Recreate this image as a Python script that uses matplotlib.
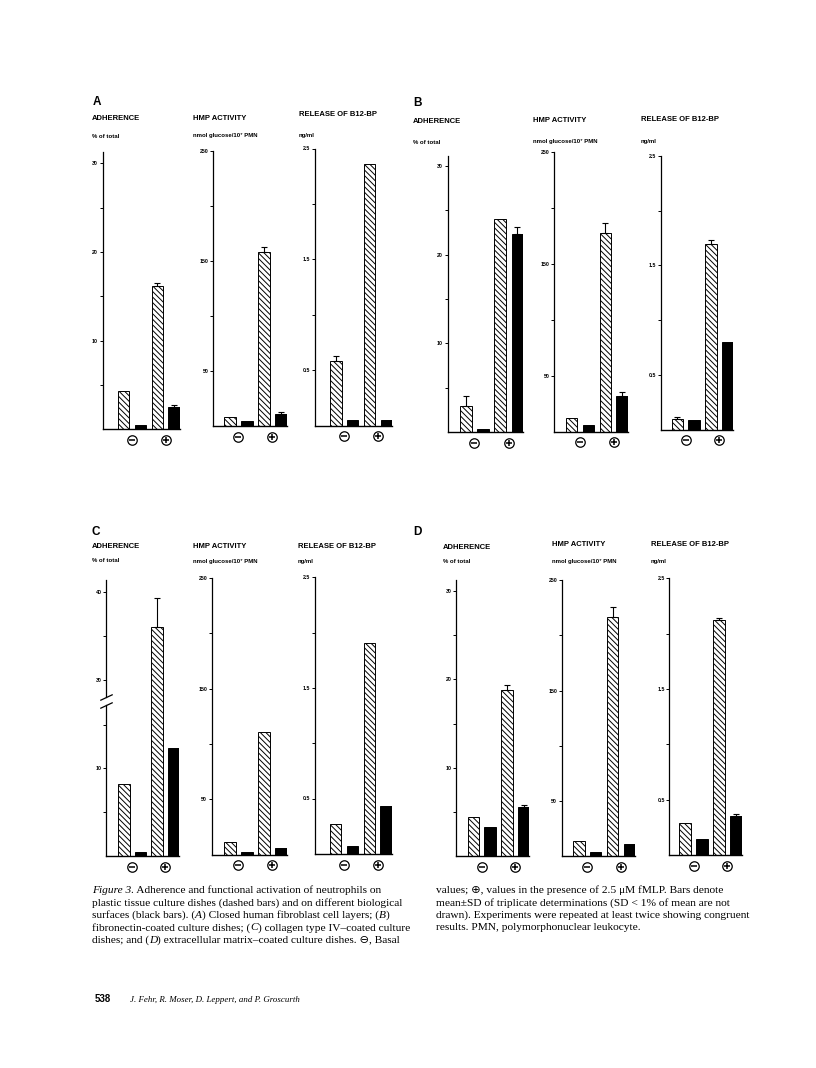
import numpy as np
import matplotlib
matplotlib.use("Agg")
from matplotlib import pyplot as plt
from matplotlib import transforms

# bar order in every panel: plastic basal, biological basal, plastic +fMLP, biological +fMLP
bar_kind = ['plastic', 'biological', 'plastic', 'biological']
sign_markers = ['_', '+']

# A: closed human fibroblast cell layers
adh_A = [4.3, 0.5, 16.2, 2.5]
adh_A_sd = [0, 0, 0.25, 0.25]
hmp_A = [8, 5, 158, 11.5]
hmp_A_sd = [0, 0, 5, 1.2]
b12_A = [0.58, 0.05, 2.36, 0.05]
b12_A_sd = [0.05, 0, 0, 0]

# B: fibronectin-coated dishes
adh_B = [2.9, 0.35, 24.0, 22.3]
adh_B_sd = [1.2, 0, 0, 0.8]
hmp_B = [12, 5.8, 178, 32]
hmp_B_sd = [0, 0, 8.5, 3.5]
b12_B = [0.10, 0.09, 1.70, 0.80]
b12_B_sd = [0.015, 0, 0.035, 0]

# C: collagen type IV-coated dishes
adh_C = [8.2, 0.42, 36.0, 12.3]
adh_C_sd = [0, 0, 3.3, 0]
hmp_C = [11.7, 2.4, 111, 5.7]
hmp_C_sd = [0, 0, 0, 0]
b12_C = [0.265, 0.07, 1.905, 0.43]
b12_C_sd = [0, 0, 0, 0]

# D: extracellular matrix-coated dishes
adh_D = [4.4, 3.3, 18.8, 5.5]
adh_D_sd = [0, 0, 0.55, 0.28]
hmp_D = [13.9, 3.9, 217, 10.6]
hmp_D_sd = [0, 0, 9, 0]
b12_D = [0.29, 0.145, 2.125, 0.35]
b12_D_sd = [0, 0, 0.02, 0.02]

adh_ticks = [10, 20, 30]
adh_minor = [5, 15, 25]
adh_ticks_C = [10, 30, 40]
adh_minor_C = [5, 15, 35]
hmp_ticks = [50, 150, 250]
hmp_minor = [100, 200]
b12_ticks = [0.5, 1.5, 2.5]
b12_minor = [1.0, 2.0]

titles = ['ADHERENCE', 'HMP ACTIVITY', 'RELEASE OF B12-BP']
units = ['% of total', 'nmol glucose/10\u2077 PMN', 'ng/ml']

# caption, (text, italic) segments per line
cap_left = [
    [('Figure 3.', True), (' Adherence and functional activation of neutrophils on', False)],
    [('plastic tissue culture dishes (dashed bars) and on different biological', False)],
    [('surfaces (black bars). (', False), ('A', True),
     (') Closed human fibroblast cell layers; (', False), ('B', True), (')', False)],
    [('fibronectin-coated culture dishes; (', False), ('C', True),
     (') collagen type IV\u2013coated culture', False)],
    [('dishes; and (', False), ('D', True),
     (') extracellular matrix\u2013coated culture dishes. \u2296, Basal', False)],
]
cap_right = [
    [('values; \u2295, values in the presence of 2.5 \u03bcM fMLP. Bars denote', False)],
    [('mean\u00b1SD of triplicate determinations (SD < 1% of mean are not', False)],
    [('drawn). Experiments were repeated at least twice showing congruent', False)],
    [('results. PMN, polymorphonuclear leukocyte.', False)],
]
page_no = '538'
authors = 'J. Fehr, R. Moser, D. Leppert, and P. Groscurth'

W, H = 816, 1068
plt.rcParams['font.family'] = ['Liberation Sans', 'DejaVu Sans']
plt.rcParams['hatch.linewidth'] = 0.7

fig = plt.figure(figsize=(W / 100, H / 100), dpi=100)
renderer = fig.canvas.get_renderer()

BW = 0.68


def fx(x):
    return x / W


def fy(y):
    return 1 - y / H


# pixel layout: y-axis x, first bar left, last bar right, baseline y, axis top y, ymax
layout = {
    ('A', 0): (102.7, 117.7, 180.0, 429.4, 151.7, 31.3),
    ('A', 1): (213.3, 224.0, 286.7, 426.3, 151.3, 250),
    ('A', 2): (315.0, 330.0, 392.3, 425.5, 148.5, 2.5),
    ('B', 0): (447.7, 460.0, 523.3, 432.0, 156.0, 31.1),
    ('B', 1): (554.3, 566.0, 627.7, 431.5, 152.2, 250),
    ('B', 2): (660.7, 671.7, 733.3, 429.5, 156.0, 2.5),
    ('C', 0): (106.0, 118.3, 179.3, 856.0, 580.0, 41.4),
    ('C', 1): (211.7, 224.0, 286.7, 854.5, 578.2, 250),
    ('C', 2): (315.0, 330.0, 391.7, 853.8, 577.3, 2.5),
    ('D', 0): (456.0, 467.7, 529.3, 856.0, 580.0, 31.26),
    ('D', 1): (561.7, 573.3, 635.0, 856.0, 580.2, 250),
    ('D', 2): (669.3, 679.3, 741.7, 855.2, 578.2, 2.5),
}

# text anchors (left x, centre y) for panel letter, then title / unit rows
label_pos = {
    'A': [(92.7, 101.7), (91.7, 118.3, 136.0), (192.7, 118.0, 135.0), (299.0, 115.0, 135.0)],
    'B': [(413.0, 103.0), (413.0, 121.7, 142.7), (533.3, 121.0, 141.0), (640.7, 119.3, 141.0)],
    'C': [(91.0, 531.7), (91.7, 546.7, 561.0), (192.7, 546.7, 561.0), (297.7, 546.0, 561.0)],
    'D': [(413.0, 531.7), (443.3, 547.3, 561.7), (551.7, 545.0, 561.0), (650.7, 545.0, 561.0)],
}

data = {
    'A': [(adh_A, adh_A_sd), (hmp_A, hmp_A_sd), (b12_A, b12_A_sd)],
    'B': [(adh_B, adh_B_sd), (hmp_B, hmp_B_sd), (b12_B, b12_B_sd)],
    'C': [(adh_C, adh_C_sd), (hmp_C, hmp_C_sd), (b12_C, b12_C_sd)],
    'D': [(adh_D, adh_D_sd), (hmp_D, hmp_D_sd), (b12_D, b12_D_sd)],
}


def broken_fwd(v):
    return np.interp(v, [0, 17.5, 27.5, 100], [0, 17.5, 17.6, 90.1])


def broken_inv(d):
    return np.interp(d, [0, 17.5, 17.6, 90.1], [0, 17.5, 27.5, 100])


def draw_bars(panel, k, vals, sd):
    X, L, R, base, top, ymax = layout[(panel, k)]
    ax = fig.add_axes([fx(X), fy(base), (R - X) / W, (base - top) / H])
    pitch = (R - L) / (3 + BW)
    ax.set_xlim(-BW / 2 - (L - X) / pitch, 3 + BW / 2)
    x = np.arange(len(vals))
    for i, v in enumerate(vals):
        if bar_kind[i] == 'plastic':
            ax.bar(x[i], v, BW, color='white', edgecolor='black', hatch='\\' * 6, lw=0.7, zorder=2)
        else:
            ax.bar(x[i], v, BW, color='black', edgecolor='black', lw=0.7, zorder=2)
    sd = np.array(sd, dtype=float)
    m = sd > 0
    if m.any():
        ax.errorbar(x[m], np.array(vals)[m], yerr=[np.zeros(m.sum()), sd[m]], fmt='none',
                    ecolor='black', elinewidth=0.8, capsize=2.4, capthick=0.8, zorder=3)

    if panel == 'C' and k == 0:
        ax.set_yscale('function', functions=(broken_fwd, broken_inv))
    ax.set_ylim(0, ymax)

    if k == 0:
        major = adh_ticks_C if panel == 'C' else adh_ticks
        minor = adh_minor_C if panel == 'C' else adh_minor
    elif k == 1:
        major, minor = hmp_ticks, hmp_minor
    else:
        major, minor = b12_ticks, b12_minor
    ax.set_yticks(major)
    ax.set_yticklabels([str(t) for t in major])
    ax.set_yticks(minor, minor=True)
    ax.set_xticks([])
    ax.tick_params(axis='y', which='both', direction='out', length=2.3, width=0.7,
                   labelsize=3.8, pad=1)
    for lab in ax.get_yticklabels():
        lab.set_fontweight('bold')
    for s in ['top', 'right']:
        ax.spines[s].set_visible(False)
    ax.spines['bottom'].set_linewidth(1.0)
    ax.spines['left'].set_linewidth(0.9)
    ax.patch.set_alpha(0)

    if panel == 'C' and k == 0:
        # broken y axis
        ax.spines['left'].set_visible(False)
        yt = ax.get_yaxis_transform()
        ax.plot([0, 0], [0, 17.2], color='black', lw=0.9, transform=yt, clip_on=False)
        ax.plot([0, 0], [28.0, ymax], color='black', lw=0.9, transform=yt, clip_on=False)
        slash = [(-1, -0.47), (1, 0.47)]
        for yv in [17.2, 28.0]:
            ax.plot([0], [yv], marker=slash, ms=9, mec='black', mew=0.9, transform=yt,
                    clip_on=False)

    # basal / fMLP symbols under each pair
    tr = transforms.offset_copy(ax.get_xaxis_transform(), fig=fig, y=-7.9, units='points')
    for xc, mk in zip([0.5, 2.5], sign_markers):
        ax.plot([xc], [0], marker='o', ms=6.8, mfc='white', mec='black', mew=0.9,
                transform=tr, clip_on=False)
        ax.plot([xc], [0], marker=mk, ms=4.2, mec='black', mew=1.1, transform=tr,
                clip_on=False)
    return ax


for panel in ['A', 'B', 'C', 'D']:
    lp = label_pos[panel]
    fig.text(fx(lp[0][0]), fy(lp[0][1]), panel, ha='left', va='center',
             fontsize=8.5, fontweight='bold')
    for k in range(3):
        vals, sd = data[panel][k]
        draw_bars(panel, k, vals, sd)
        xt, yt1, yt2 = lp[k + 1]
        fig.text(fx(xt), fy(yt1), titles[k], ha='left', va='center', fontsize=5.5,
                 fontweight='bold')
        fig.text(fx(xt), fy(yt2), units[k], ha='left', va='center', fontsize=4.3,
                 fontweight='bold')

serif = ['Liberation Serif', 'DejaVu Sans']


def text_width(s, **kw):
    t1 = fig.text(0, 0, '|' + s + '|', **kw)
    t2 = fig.text(0, 0, '||', **kw)
    w = t1.get_window_extent(renderer).width - t2.get_window_extent(renderer).width
    t1.remove()
    t2.remove()
    return w


def rich_line(x, y, parts, size):
    for s, italic in parts:
        kw = dict(fontsize=size, family=serif, style='italic' if italic else 'normal')
        fig.text(fx(x), fy(y), s, ha='left', va='baseline', **kw)
        x += text_width(s, **kw)


for i, line in enumerate(cap_left):
    rich_line(91.7, 893.3 + 12.4 * i, line, 8.2)
for i, line in enumerate(cap_right):
    rich_line(436.0, 893.3 + 12.4 * i, line, 8.2)

fig.text(fx(95.0), fy(1001.5), page_no, ha='left', va='baseline', fontsize=7,
         fontweight='bold')
fig.text(fx(130.0), fy(1001.5), authors, ha='left', va='baseline', fontsize=6.4,
         style='italic', family=serif)

fig.savefig('out.png', dpi=100, facecolor='white')
